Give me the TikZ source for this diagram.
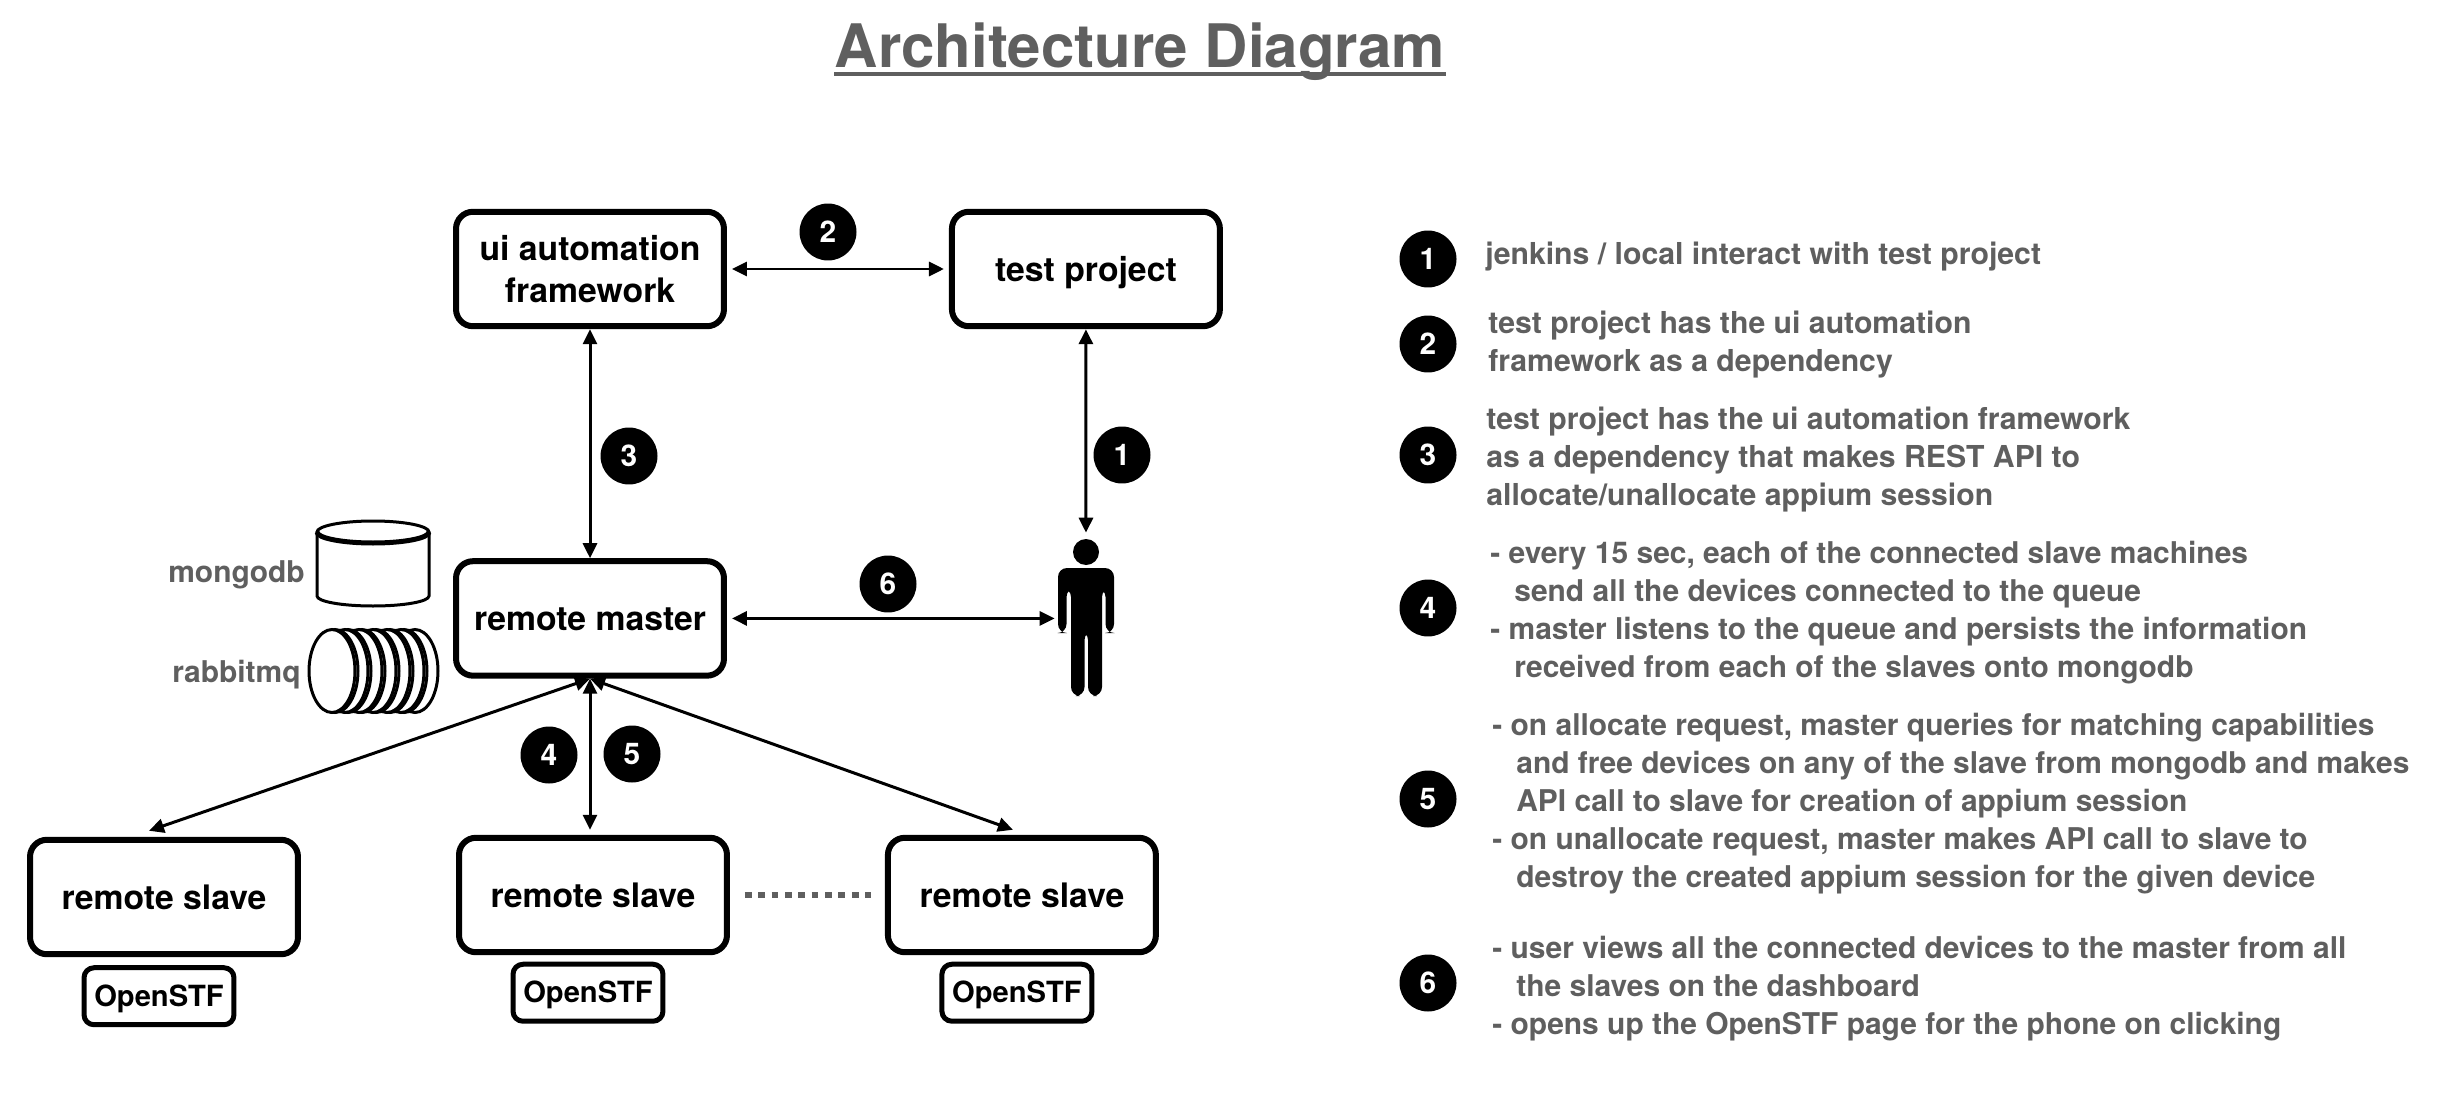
\documentclass[tikz,border=0pt]{standalone}
\usepackage{fontspec}
\setmainfont{TeX Gyre Heros}
\usepackage{xcolor}
\usepackage{tikz}
\usetikzlibrary{arrows.meta,positioning}
\definecolor{dfgrey}{RGB}{95,95,95}
\tikzstyle{box} = [rectangle, rounded corners=0.34cm, minimum width=5.36cm, minimum height=2.29cm, draw=black, line width=0.12cm, font=\bfseries\fontsize{19.2}{24}\selectfont, align=center]
\tikzstyle{onebox} = [box, text height=0.5cm, text depth=0pt]
\tikzstyle{stf} = [rectangle, rounded corners=0.2cm, minimum width=3cm, minimum height=1.14cm, inner sep=0pt, text height=0.4cm, text depth=0pt, draw=black, line width=0.1cm, font=\bfseries\fontsize{16.6}{20}\selectfont]
\tikzstyle{badge} = [circle, fill=black, text=white, minimum size=1.14cm, inner sep=0pt, font=\bfseries\fontsize{17}{20}\selectfont]
\tikzstyle{legend} = [anchor=base west, inner sep=0pt, align=left, text=dfgrey, font=\bfseries\fontsize{17.2}{21.6}\selectfont]
\tikzstyle{legendsmall} = [legend, font=\bfseries\fontsize{17.05}{21.6}\selectfont]
\tikzstyle{arrow} = [line width=0.06cm, <->, >={Triangle[length=0.3cm,width=0.28cm]}]
\begin{document}
\begin{tikzpicture}[x=0.02cm,y=-0.02cm]
\useasboundingbox (0,0) rectangle (2440,1098);

\node[anchor=base, inner sep=0pt, text=dfgrey, font=\bfseries\fontsize{34.15}{40}\selectfont] (title) at (1140,68) {Architecture Diagram};
\draw[dfgrey, line width=0.066cm] ([yshift=-0.12cm]title.base west) -- ([yshift=-0.12cm]title.base east);

% top row and master
\node[box] (ui) at (590,269) {ui automation\\framework};
\node[onebox, right=4.44cm of ui] (test) {test project};
\node[onebox, below=4.58cm of ui] (master) {remote master};
\node[minimum width=1.24cm, minimum height=3.4cm, inner sep=0pt] (user) at (1086,618) {};

% slaves
\node[onebox] (slave1) at (164,897) {remote slave};
\node[onebox] (slave2) at (593,895) {remote slave};
\node[onebox, right=3.1cm of slave2] (slave3) {remote slave};
\node[stf, below=0.16cm of slave1, xshift=-0.1cm] (stf1) {OpenSTF};
\node[stf, below=0.13cm of slave2, xshift=-0.1cm] (stf2) {OpenSTF};
\node[stf, below=0.13cm of slave3, xshift=-0.1cm] (stf3) {OpenSTF};

% person
\fill (1086,552) circle (13);
\fill[rounded corners=0.18cm] (1058,633) -- (1058,568) -- (1114,568) -- (1114,633) -- (1105.5,633) -- (1105.5,588) -- (1102,588) -- (1102,696) -- (1088,696) -- (1088,631) -- (1084.5,631) -- (1084.5,696) -- (1071,696) -- (1071,588) -- (1066.5,588) -- (1066.5,633) -- cycle;

% mongodb
\draw[line width=0.06cm] (317,532) -- (317,596) arc[start angle=180, end angle=0, x radius=56, y radius=10] -- (429,532);
\draw[line width=0.06cm] (373,532) ellipse[x radius=56, y radius=11];
\draw[line width=0.1cm] (317,532) arc[start angle=180, end angle=0, x radius=56, y radius=11];
\node[legendsmall] (mongo) at (168,582) {mongodb};

% rabbitmq
\foreach \r in {438,427,424,413,410,399,396,385,382,371,368,358,355}
  \draw[fill=white, line width=0.06cm] (\r-23,671) ellipse[x radius=23, y radius=41.5];
\node[legendsmall] (rabbit) at (172,682) {rabbitmq};

\draw[arrow, shorten <=0.1cm, shorten >=0.1cm] (ui) -- (test);
\draw[arrow] (ui) -- (master);
\draw[arrow] (test) -- (user);
\draw[arrow, shorten <=0.1cm] (master) -- (user.west |- master);
\draw[arrow] (master.south) -- ([xshift=-0.3cm,yshift=0.12cm]slave1.north);
\draw[arrow, shorten >=0.1cm] (master.south) -- (master.south |- slave2.north);
\draw[arrow] (master.south) -- ([xshift=-0.18cm,yshift=0.1cm]slave3.north);
\draw[dfgrey, line width=0.135cm, dash pattern=on 0.135cm off 0.132cm, shorten <=0.3cm, shorten >=0.28cm, yshift=-0.03cm] (slave2) -- (slave3);

% badges on the diagram
\node[badge] (b1) at (1122,455) {1};
\node[badge] (b2) at (828,232) {2};
\node[badge] (b3) at (629,456) {3};
\node[badge] (b4) at (549,755) {4};
\node[badge] (b5) at (632,754) {5};
\node[badge] (b6) at (888,584) {6};

% legend
\node[badge] (leg1) at (1428,259) {1};
\node[badge] (leg2) at (1428,344) {2};
\node[badge] (leg3) at (1428,455) {3};
\node[badge] (leg4) at (1428,608) {4};
\node[badge] (leg5) at (1428,799) {5};
\node[badge] (leg6) at (1428,983) {6};

\node[legend] (text1) at (1485,264) {jenkins / local interact with test project};
\node[legend] (text2) at (1488,371.5) {test project has the ui automation\\framework as a dependency};
\node[legend] (text3) at (1486,505.5) {test project has the ui automation framework\\as a dependency that makes REST API to\\allocate/unallocate appium session};
\node[legendsmall] (text4) at (1490,677.5) {- every 15 sec, each of the connected slave machines\\\hspace*{0.48cm}send all the devices connected to the queue\\- master listens to the queue and persists the information\\\hspace*{0.48cm}received from each of the slaves onto mongodb};
\node[legendsmall] (text5) at (1492,887) {- on allocate request, master queries for matching capabilities\\\hspace*{0.48cm}and free devices on any of the slave from mongodb and makes\\\hspace*{0.48cm}API call to slave for creation of appium session\\- on unallocate request, master makes API call to slave to\\\hspace*{0.48cm}destroy the created appium session for the given device};
\node[legendsmall] (text6) at (1492,1034) {- user views all the connected devices to the master from all\\\hspace*{0.48cm}the slaves on the dashboard\\- opens up the OpenSTF page for the phone on clicking};
\end{tikzpicture}
\end{document}
